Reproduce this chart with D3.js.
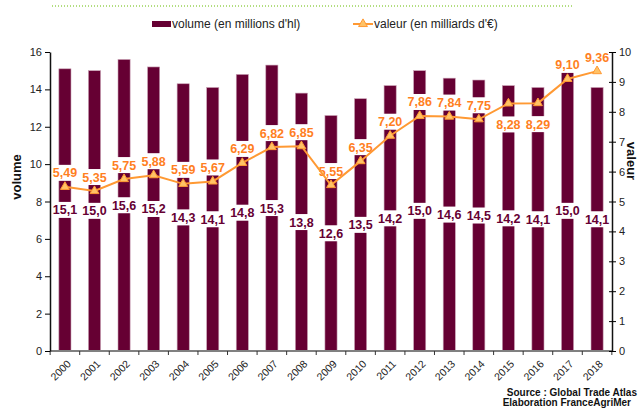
<!DOCTYPE html>
<html>
<head>
<meta charset="utf-8">
<script src="https://cdnjs.cloudflare.com/ajax/libs/d3/7.8.5/d3.min.js"></script>
<style>
  body { margin: 0; background: #fff; }
  svg { font-family: "Liberation Sans", Arial, sans-serif; }
</style>
</head>
<body>
<div id="chart"></div>
<script>
// data
var years = ['2000', '2001', '2002', '2003', '2004', '2005', '2006', '2007', '2008', '2009',
  '2010', '2011', '2012', '2013', '2014', '2015', '2016', '2017', '2018'];
var volume = [15.1, 15.0, 15.6, 15.2, 14.3, 14.1, 14.8, 15.3, 13.8, 12.6,
  13.5, 14.2, 15.0, 14.6, 14.5, 14.2, 14.1, 15.0, 14.1];
var valeur = [5.49, 5.35, 5.75, 5.88, 5.59, 5.67, 6.29, 6.82, 6.85, 5.55,
  6.35, 7.20, 7.86, 7.84, 7.75, 8.28, 8.29, 9.10, 9.36];
var leftTicks = [0, 2, 4, 6, 8, 10, 12, 14, 16];
var rightTicks = [0, 1, 2, 3, 4, 5, 6, 7, 8, 9, 10];
var labelBelow = ['2015', '2016'];

var W = 640, H = 409;
var margin = {top: 52, left: 50, right: 28, bottom: 58};
var plotW = W - margin.left - margin.right;
var plotH = H - margin.top - margin.bottom;

var barColor = '#660033', lineColor = '#ff9933', labColor = '#ff7f1f';

var svg = d3.select('#chart').append('svg')
  .attr('width', W)
  .attr('height', H);

// green dotted rule at top
svg.append('line')
  .attr('x1', 52).attr('x2', 572).attr('y1', 6).attr('y2', 6)
  .attr('stroke', '#66bb00').attr('stroke-width', 1)
  .attr('stroke-dasharray', '1,2');

var g = svg.append('g')
  .attr('transform', 'translate(' + margin.left + ',' + margin.top + ')');

var x = d3.scaleBand().domain(years).range([0, plotW]).paddingInner(0.59).paddingOuter(0.3);
var yL = d3.scaleLinear().domain([0, 16]).range([plotH, 0]);
var yR = d3.scaleLinear().domain([0, 10]).range([plotH, 0]);

var rows = years.map(function(y, i) {
  return {year: y, vol: volume[i], val: valeur[i]};
});

// bars
g.selectAll('.bar')
  .data(rows)
  .enter().append('rect')
  .attr('class', 'bar')
  .attr('x', function(d) { return x(d.year); })
  .attr('y', function(d) { return yL(d.vol); })
  .attr('width', x.bandwidth())
  .attr('height', function(d) { return plotH - yL(d.vol); })
  .attr('fill', barColor)
  .attr('stroke', '#c9a0b4')
  .attr('stroke-width', 0.6);

// volume labels (centered in bars, white box)
var volLab = g.selectAll('.vollab')
  .data(rows)
  .enter().append('g')
  .attr('class', 'vollab')
  .attr('transform', function(d) {
    return 'translate(' + (x(d.year) + x.bandwidth() / 2) + ',' + yL(d.vol / 2) + ')';
  });
volLab.append('rect')
  .attr('x', -13).attr('y', -8).attr('width', 26).attr('height', 16)
  .attr('fill', '#fff');
volLab.append('text')
  .attr('text-anchor', 'middle')
  .attr('dy', '0.36em')
  .attr('font-size', 12.5)
  .attr('font-weight', 'bold')
  .attr('fill', barColor)
  .text(function(d) { return d3.format('.1f')(d.vol).replace('.', ','); });

// valeur line
var line = d3.line()
  .x(function(d) { return x(d.year) + x.bandwidth() / 2; })
  .y(function(d) { return yR(d.val); });

// valeur labels white boxes first (so line sits on top)
var valLab = g.selectAll('.vallab')
  .data(rows)
  .enter().append('g')
  .attr('class', 'vallab')
  .attr('transform', function(d) {
    var below = labelBelow.indexOf(d.year) >= 0;
    return 'translate(' + (x(d.year) + x.bandwidth() / 2) + ',' + (yR(d.val) + (below ? 21 : -14)) + ')';
  });
valLab.append('rect')
  .attr('x', -16).attr('y', -8).attr('width', 32).attr('height', 16)
  .attr('fill', '#fff');

g.append('path')
  .datum(rows)
  .attr('d', line)
  .attr('fill', 'none')
  .attr('stroke', lineColor)
  .attr('stroke-width', 2);

g.selectAll('.marker')
  .data(rows)
  .enter().append('path')
  .attr('class', 'marker')
  .attr('d', d3.symbol().type(d3.symbolTriangle).size(34))
  .attr('transform', function(d) {
    return 'translate(' + (x(d.year) + x.bandwidth() / 2) + ',' + yR(d.val) + ')';
  })
  .attr('fill', '#ffc266')
  .attr('stroke', lineColor)
  .attr('stroke-width', 1);

valLab.append('text')
  .attr('text-anchor', 'middle')
  .attr('dy', '0.36em')
  .attr('font-size', 12.5)
  .attr('font-weight', 'bold')
  .attr('fill', labColor)
  .text(function(d) { return d3.format('.2f')(d.val).replace('.', ','); });

// axes
var xAxis = g.append('g')
  .attr('transform', 'translate(0,' + plotH + ')');
xAxis.append('line')
  .attr('x1', 0).attr('x2', plotW)
  .attr('stroke', '#808080').attr('stroke-width', 2);
xAxis.selectAll('.xt')
  .data(years.concat(['end']))
  .enter().append('line')
  .attr('x1', function(d, i) { return i * x.step() - (x.step() * x.paddingInner()) / 2 + x.step() * x.paddingOuter(); })
  .attr('x2', function(d, i) { return i * x.step() - (x.step() * x.paddingInner()) / 2 + x.step() * x.paddingOuter(); })
  .attr('y1', 0).attr('y2', 4)
  .attr('stroke', '#333');
xAxis.selectAll('.xlab')
  .data(years)
  .enter().append('text')
  .attr('transform', function(d) {
    return 'translate(' + (x(d) + x.bandwidth() / 2 + 4) + ',11) rotate(-45)';
  })
  .attr('text-anchor', 'end')
  .attr('dy', '0.35em')
  .attr('font-size', 10.5)
  .attr('fill', '#222')
  .text(function(d) { return d; });

var leftAxis = g.append('g')
  .call(d3.axisLeft(yL).tickValues(leftTicks).tickSize(5).tickSizeOuter(0));
leftAxis.select('.domain').attr('stroke', '#111').attr('stroke-width', 1.5);
leftAxis.selectAll('text').attr('font-size', 11).attr('fill', '#222').attr('font-family', 'Liberation Sans, Arial, sans-serif');

var rightAxis = g.append('g')
  .attr('transform', 'translate(' + plotW + ',0)')
  .call(d3.axisRight(yR).tickValues(rightTicks).tickSize(4).tickSizeOuter(0).tickPadding(3));
rightAxis.select('.domain').attr('stroke', '#111').attr('stroke-width', 1.5);
rightAxis.selectAll('.tick line').attr('x1', -3);
rightAxis.selectAll('text').attr('font-size', 11).attr('fill', '#222').attr('font-family', 'Liberation Sans, Arial, sans-serif');

// axis titles
svg.append('text')
  .attr('transform', 'translate(21,177) rotate(-90)')
  .attr('text-anchor', 'middle')
  .attr('font-size', 13)
  .attr('font-weight', 'bold')
  .attr('fill', '#111')
  .text('volume');
svg.append('text')
  .attr('transform', 'translate(627,161) rotate(90)')
  .attr('text-anchor', 'middle')
  .attr('font-size', 13)
  .attr('font-weight', 'bold')
  .attr('fill', '#111')
  .text('valeur');

// legend
svg.append('rect')
  .attr('x', 152).attr('y', 21).attr('width', 19).attr('height', 6)
  .attr('fill', barColor);
svg.append('text')
  .attr('x', 172).attr('y', 28)
  .attr('font-size', 12)
  .attr('fill', '#222')
  .text("volume (en millions d'hl)");
svg.append('line')
  .attr('x1', 353).attr('x2', 373).attr('y1', 24).attr('y2', 24)
  .attr('stroke', lineColor).attr('stroke-width', 2);
svg.append('path')
  .attr('d', d3.symbol().type(d3.symbolTriangle).size(34))
  .attr('transform', 'translate(363,24)')
  .attr('fill', '#ffc266')
  .attr('stroke', lineColor);
svg.append('text')
  .attr('x', 374).attr('y', 28)
  .attr('font-size', 12)
  .attr('fill', '#222')
  .text("valeur (en milliards d'€)");

// source
svg.append('text')
  .attr('x', 637).attr('y', 396)
  .attr('text-anchor', 'end')
  .attr('font-size', 10)
  .attr('font-weight', 'bold')
  .attr('fill', '#111')
  .text('Source : Global Trade Atlas');
svg.append('text')
  .attr('x', 631).attr('y', 406)
  .attr('text-anchor', 'end')
  .attr('font-size', 10)
  .attr('font-weight', 'bold')
  .attr('fill', '#111')
  .text('Elaboration FranceAgriMer');
</script>
</body>
</html>
